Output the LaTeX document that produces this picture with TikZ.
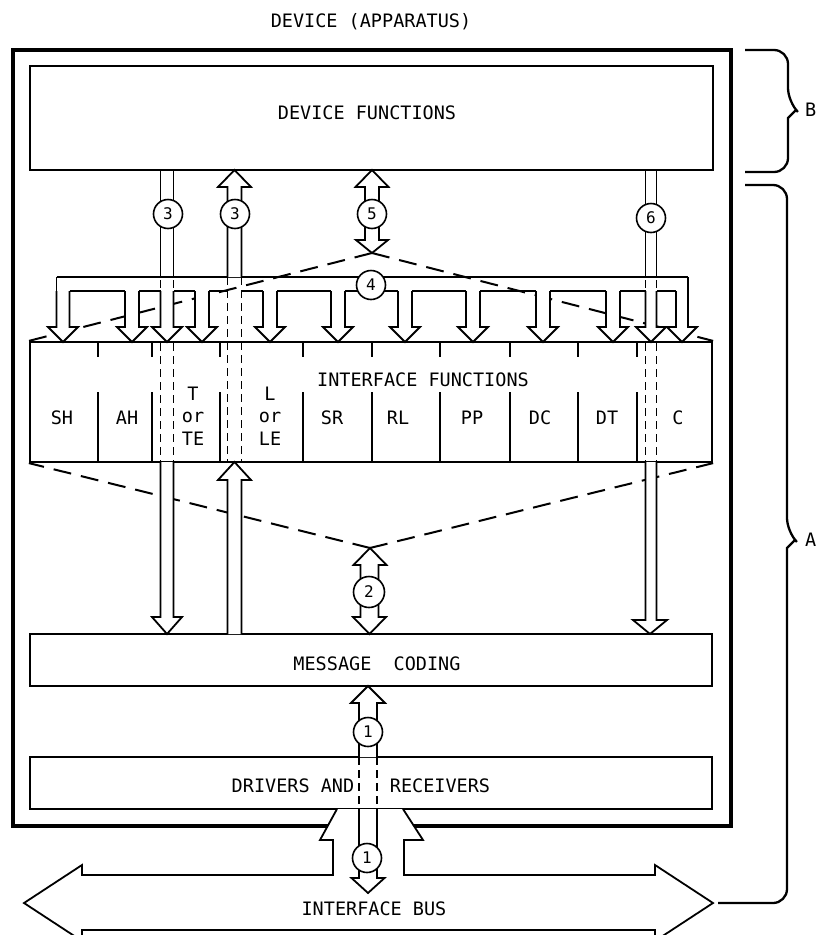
\documentclass[tikz,border=0pt]{standalone}
\usepackage{fontspec}
\newfontfamily\dmono{DejaVu Sans Mono}
\usetikzlibrary{calc}
\begin{document}
\begin{tikzpicture}[x=1pt,y=-1pt,
  ln/.style={line width=1.8pt, line join=miter},
  boxs/.style={draw, line width=2.2pt, rectangle, inner sep=0pt, font=\dmono\fontsize{18}{22}\selectfont},
  lbl/.style={font=\dmono\fontsize{18.5}{22.5}\selectfont, inner sep=0pt, align=center},
  numc/.style={circle, draw, fill=white, line width=1.6pt, minimum size=29pt, inner sep=0pt, font=\dmono\fontsize{16}{17}\selectfont},
  dsh/.style={line width=1.5pt, dash pattern=on 8pt off 5pt},
  bigdash/.style={line width=2pt, dash pattern=on 18pt off 10pt},
  brace/.style={line width=2.3pt, rounded corners=14pt},
]
\useasboundingbox (0,0) rectangle (817,935);
\clip (0,0) rectangle (817,935);

% title
\node[lbl] (title) at (371,22) {DEVICE (APPARATUS)};

% outer device box (gap at bottom for bus arrow)
\draw[line width=3.2pt, line join=miter] (328,826) -- (13,826) -- (13,50) -- (731,50) -- (731,826) -- (413,826);

% boxes
\node[boxs, minimum width=683pt, minimum height=104pt] (df) at (371.5,118) {};
\node[lbl] (dftxt) at (367,113) {DEVICE FUNCTIONS};
\node[boxs, minimum width=682pt, minimum height=120pt] (ifx) at (371,402) {};
\node[boxs, minimum width=682pt, minimum height=52pt] (mc) at (371,660) {};
\node[lbl] (mctxt) at (377,664) {MESSAGE\ \ CODING};
\node[boxs, minimum width=682pt, minimum height=52pt] (dr) at (371,783) {};
\node[lbl] (drtxt1) at (293,786) {DRIVERS AND};
\node[lbl] (drtxt2) at (440,786) {RECEIVERS};

% interface function dividers and labels
\foreach \x in {98,152,220,303,372,440,510,578,637} {
  \draw[ln] (\x,342) -- (\x,357);
  \draw[ln] (\x,392) -- (\x,462);
}
\node[lbl] (iftxt) at (423,380) {INTERFACE FUNCTIONS};
\node[lbl] (lSH) at (62,418) {SH};
\node[lbl] (lAH) at (127,418) {AH};
\node[lbl] (lT) at (193,416) {T\\or\\TE};
\node[lbl] (lL) at (270,416) {L\\or\\LE};
\node[lbl] (lSR) at (332,418) {SR};
\node[lbl] (lRL) at (398,418) {RL};
\node[lbl] (lPP) at (472,418) {PP};
\node[lbl] (lDC) at (540,418) {DC};
\node[lbl] (lDT) at (607,418) {DT};
\node[lbl] (lC) at (678,418) {C};

% dashed fans
\coordinate (tip5) at (372,253);
\coordinate (tip2) at (370,548);
\draw[bigdash] (tip5) -- (ifx.north west);
\draw[bigdash] (tip5) -- (ifx.north east);
\draw[bigdash] (tip2) -- (ifx.south west);
\draw[bigdash] (tip2) -- (ifx.south east);

% bus 4 with branch arrows
\draw[ln] (56.5,277) -- (688,277);
\draw[ln] (56.5,277) -- (56.5,291);
\draw[ln] (688,277) -- (688,291);
\foreach \c/\s in {63/6.5,132/7,167/6.5,202/7,270/7,338/7,405/7,473/7,543/7,613/7,651/5.5,682/6} {
  \draw[ln, fill=white] ({\c-\s},291) -- ({\c-\s},327) -- ({\c-15},327) -- (\c,342) -- ({\c+15},327) -- ({\c+\s},327) -- ({\c+\s},291);
}
\foreach \a/\b in {69.5/125,139/160.5,173.5/195,209/227.5,241.5/263,277/331,345/398,412/466,480/536,550/606,620/645.5,656.5/676} {
  \draw[ln] (\a,291) -- (\b,291);
}

% arrow 3 (left, downward)
\draw[ln] (160.5,170) -- (160.5,277);
\draw[ln] (173.5,170) -- (173.5,277);
\draw[dsh] (160.5,280) -- (160.5,289);
\draw[dsh] (173.5,280) -- (173.5,289);
\draw[dsh] (160.5,343) -- (160.5,462);
\draw[dsh] (173.5,343) -- (173.5,462);
\draw[ln, fill=white] (160.5,462) -- (160.5,617) -- (152,617) -- (167,634) -- (182,617) -- (173.5,617) -- (173.5,462);
\node[numc] (c3a) at (168,214) {3};

% arrow 3 (right, upward)
\draw[ln, fill=white] (227.5,277) -- (227.5,187) -- (218,187) -- (234.5,170) -- (251,187) -- (241.5,187) -- (241.5,277);
\draw[dsh] (227.5,277) -- (227.5,462);
\draw[dsh] (241.5,277) -- (241.5,462);
\draw[ln, fill=white] (227.5,634) -- (227.5,480) -- (218,480) -- (234.5,462) -- (251,480) -- (241.5,480) -- (241.5,634);
\node[numc] (c3b) at (235,214) {3};

% arrow 5 (double)
\draw[ln, fill=white] (365,240) -- (365,187) -- (355.5,187) -- (372,170) -- (388.5,187) -- (379,187) -- (379,240) -- (388,240) -- (372,253) -- (356,240) -- cycle;
\node[numc] (c5) at (372,214) {5};
\node[numc] (c4) at (371,285) {4};

% arrow 6 (downward)
\draw[ln] (645.5,170) -- (645.5,277);
\draw[ln] (656.5,170) -- (656.5,277);
\draw[dsh] (645.5,280) -- (645.5,289);
\draw[dsh] (656.5,280) -- (656.5,289);
\draw[dsh] (645.5,343) -- (645.5,462);
\draw[dsh] (656.5,343) -- (656.5,462);
\draw[ln, fill=white] (645.5,462) -- (645.5,620) -- (633,620) -- (650,634) -- (667,620) -- (656.5,620) -- (656.5,462);
\node[numc] (c6) at (651,218) {6};

% arrow 2 (double)
\draw[ln, fill=white] (360.5,617) -- (360.5,565) -- (353.5,565) -- (370,548) -- (386.5,565) -- (378.5,565) -- (378.5,617) -- (386,617) -- (369.5,634) -- (353,617) -- cycle;
\node[numc, minimum size=31pt] (c2) at (369,592) {2};

% interface bus with upward arrow to drivers
\fill[white] (337,809) -- (320,840) -- (333,840) -- (333,875) -- (404,875) -- (404,840) -- (423,840) -- (403,809) -- cycle;
\draw[ln] (337,809) -- (320,840) -- (333,840) -- (333,875) -- (82,875) -- (82,865) -- (24,903) -- (82,941) -- (82,930) -- (655,930) -- (655,941) -- (713,903) -- (655,865) -- (655,875) -- (404,875) -- (404,840) -- (423,840) -- (403,809);
\node[lbl] (bustxt) at (374,909) {INTERFACE BUS};

% arrow 1 (message coding <-> bus)
\draw[ln, fill=white] (359,757) -- (359,703) -- (351,703) -- (368,686) -- (385,703) -- (377,703) -- (377,757);
\draw[dsh] (359,757) -- (359,809);
\draw[dsh] (377,757) -- (377,809);
\draw[ln, fill=white] (359,809) -- (359,878) -- (351.5,878) -- (368,893) -- (384.5,878) -- (377,878) -- (377,809);
\node[numc] (c1a) at (368,732) {1};
\node[numc] (c1b) at (367,858) {1};

% braces
\draw[brace] (745,50) -- (788,50) -- (788,102) [rounded corners=0pt] -- (796,110) -- (788,118) [rounded corners=14pt] -- (788,172) -- (745,172);
\node[lbl, anchor=west] (lB) at (805,110) {B};
\draw[brace] (745,185) -- (787,185) -- (787,532) [rounded corners=0pt] -- (795,540) -- (787,548) [rounded corners=14pt] -- (787,903) -- (718,903);
\node[lbl, anchor=west] (lA) at (805,540) {A};
\end{tikzpicture}
\end{document}
